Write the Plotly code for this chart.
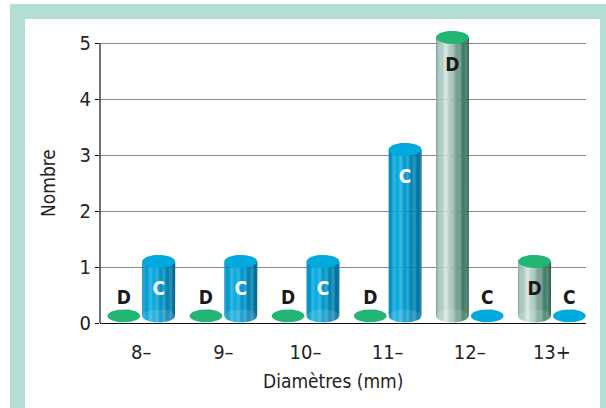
import numpy as np
import plotly.graph_objects as go

# ---- data ----
categories = ["8–", "9–", "10–", "11–", "12–", "13+"]
d_values = [0, 0, 0, 0, 5, 1]
c_values = [1, 1, 1, 3, 0, 0]
y_ticks = [0, 1, 2, 3, 4, 5]
x_title = "Diamètres (mm)"
y_title = "Nombre"

# ---- style ----
FONT = "Liberation Sans Narrow, DejaVu Sans Condensed, Roboto, sans-serif"
HALF_W = 0.2          # cylinder half width (x units)
RY = 0.116            # ellipse half height (y units)
BASE = 0.128          # centre of bottom disc
LIFT = 0.1            # top disc lifted above the value
N_STRIPS = 28

series = [
    dict(name="D", values=d_values, off=-0.212, top="#22b573", flat="#22b573",
         stops=[(0, "#82aaa1"), (0.12, "#a3c3bb"), (0.3, "#d3e4dd"), (0.42, "#b3cec5"),
                (0.62, "#77a395"), (0.82, "#427e69"), (1, "#27634e")],
         bar_txt="#1a1a1a"),
    dict(name="C", values=c_values, off=0.212, top="#00a9de", flat="#00a9de",
         stops=[(0, "#0086b8"), (0.15, "#00a2d8"), (0.32, "#12ade0"), (0.55, "#0096ca"),
                (0.8, "#007eac"), (1, "#006a93")],
         bar_txt="#ffffff"),
]


def interp(stops, t):
    for (t0, c0), (t1, c1) in zip(stops[:-1], stops[1:]):
        if t0 <= t <= t1:
            f = (t - t0) / (t1 - t0) if t1 > t0 else 0
            a = [int(c0[i:i + 2], 16) for i in (1, 3, 5)]
            b = [int(c1[i:i + 2], 16) for i in (1, 3, 5)]
            return "rgb(%d,%d,%d)" % tuple(round(a[k] + (b[k] - a[k]) * f) for k in range(3))
    return stops[-1][1]


def ellipse(cx, cy, n=60):
    th = np.linspace(0, 2 * np.pi, n)
    return list(cx + HALF_W * np.cos(th)), list(cy + RY * np.sin(th))


fig = go.Figure()
xs_pos = np.arange(len(categories))

text_x, text_y, text_s, text_c = [], [], [], []

for s in series:
    strips = [([], []) for _ in range(N_STRIPS)]
    tops_x, tops_y, disc_x, disc_y, flat_x, flat_y = [], [], [], [], [], []
    for i, v in zip(xs_pos, s["values"]):
        cx = i + s["off"]
        if v > 0:
            top = v + LIFT
            edges = np.linspace(cx - HALF_W, cx + HALF_W, N_STRIPS + 1)
            for k in range(N_STRIPS):
                xa, xb = edges[k], edges[k + 1] + 0.002
                bx = np.linspace(min(xb, cx + HALF_W), xa, 5)
                tt = np.clip((bx - cx) / HALF_W, -1, 1)
                by = BASE - RY * np.sqrt(1 - tt ** 2)
                px = [xa, xb] + list(bx) + [xa, None]
                py = [top, top] + list(by) + [top, None]
                strips[k][0].extend(px)
                strips[k][1].extend(py)
            ex, ey = ellipse(cx, top)
            tops_x += ex + [None]; tops_y += ey + [None]
            ex, ey = ellipse(cx, BASE)
            disc_x += ex + [None]; disc_y += ey + [None]
            text_x.append(cx); text_y.append(top - 0.52)
            text_s.append(s["name"]); text_c.append(s["bar_txt"])
        else:
            ex, ey = ellipse(cx, BASE)
            flat_x += ex + [None]; flat_y += ey + [None]
            text_x.append(cx); text_y.append(BASE + 0.29)
            text_s.append(s["name"]); text_c.append("#1a1a1a")
    for k in range(N_STRIPS):
        col = interp(s["stops"], (k + 0.5) / N_STRIPS)
        fig.add_trace(go.Scatter(x=strips[k][0], y=strips[k][1], mode="lines", fill="toself",
                                 fillcolor=col, line=dict(width=0, color=col),
                                 hoverinfo="skip", showlegend=False))
    if disc_x:
        fig.add_trace(go.Scatter(x=disc_x, y=disc_y, mode="lines", fill="toself",
                                 fillcolor="rgba(255,255,255,0.12)", line=dict(width=0),
                                 hoverinfo="skip", showlegend=False))
    if tops_x:
        fig.add_trace(go.Scatter(x=tops_x, y=tops_y, mode="lines", fill="toself",
                                 fillcolor=s["top"], line=dict(width=0, color=s["top"]),
                                 hoverinfo="skip", showlegend=False))
    if flat_x:
        fig.add_trace(go.Scatter(x=flat_x, y=flat_y, mode="lines", fill="toself",
                                 fillcolor=s["flat"], line=dict(width=0, color=s["flat"]),
                                 hoverinfo="skip", showlegend=False))

fig.add_trace(go.Scatter(x=text_x, y=text_y, mode="text", text=text_s,
                         textfont=dict(family=FONT, size=19, color=text_c, weight="bold"),
                         textposition="middle center", hoverinfo="skip", showlegend=False))

W, H = 606, 408
ML, MR, MT, MB = 100, 20, 29, 85
pw, ph = W - ML - MR, H - MT - MB


def px2x(px):
    return (px - ML) / pw


def py2y(py):
    return (H - MB - py) / ph


fig.update_layout(
    width=W, height=H,
    margin=dict(l=ML, r=MR, t=MT, b=MB),
    paper_bgcolor="white", plot_bgcolor="rgba(0,0,0,0)",
    font=dict(family=FONT, color="#222222"),
    xaxis=dict(range=[-0.502, 5.415], tickvals=list(xs_pos), ticktext=categories,
               showgrid=False, zeroline=False, showline=True, linecolor="#111111",
               linewidth=1.2, ticks="", ticklabelstandoff=11,
               tickfont=dict(size=20, family=FONT, color="#222222")),
    yaxis=dict(range=[0, 5.25], tickvals=y_ticks, showgrid=True, gridcolor="#8a8a8a",
               gridwidth=1.3, zeroline=False, showline=False, ticks="outside",
               ticklen=4, tickcolor="#111111", tickwidth=1,
               tickfont=dict(size=20, family=FONT, color="#222222")),
    shapes=[
        dict(type="rect", xref="paper", yref="paper", x0=px2x(10), x1=px2x(606),
             y0=py2y(410), y1=py2y(4), fillcolor="#b2ded4", line=dict(width=0), layer="below"),
        dict(type="rect", xref="paper", yref="paper", x0=px2x(25), x1=px2x(600),
             y0=py2y(412), y1=py2y(19), fillcolor="white", line=dict(width=0), layer="below"),
        dict(type="line", xref="paper", yref="y", x0=0, x1=0, y0=-0.08, y1=5,
             line=dict(color="#111111", width=1.2), layer="above"),
    ],
    annotations=[
        dict(text=y_title, xref="paper", yref="paper", x=px2x(48), y=py2y(183),
             textangle=-90, showarrow=False, font=dict(size=19, family=FONT, color="#222222"),
             xanchor="center", yanchor="middle"),
        dict(text=x_title, xref="paper", yref="paper", x=px2x(333), y=py2y(381),
             showarrow=False, font=dict(size=19, family=FONT, color="#222222"),
             xanchor="center", yanchor="middle"),
    ],
)

fig.write_html("out.html", config={"displayModeBar": False},
               post_script="document.body.style.margin='0';document.body.style.padding='0';")
